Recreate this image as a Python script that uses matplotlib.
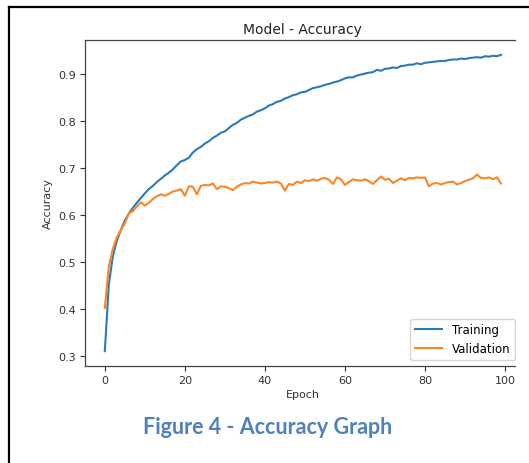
import matplotlib
matplotlib.use("Agg")
import matplotlib.pyplot as plt
from matplotlib.patches import Rectangle
from matplotlib.lines import Line2D

epochs = list(range(100))
training = [
    0.310, 0.452, 0.512, 0.545, 0.568, 0.588, 0.603, 0.615, 0.626, 0.636,
    0.646, 0.655, 0.662, 0.670, 0.677, 0.684, 0.690, 0.697, 0.706, 0.714,
    0.717, 0.722, 0.733, 0.740, 0.745, 0.752, 0.757, 0.764, 0.769, 0.775,
    0.778, 0.785, 0.792, 0.796, 0.803, 0.807, 0.811, 0.814, 0.820, 0.823,
    0.827, 0.833, 0.836, 0.841, 0.843, 0.848, 0.851, 0.855, 0.857, 0.861,
    0.862, 0.866, 0.870, 0.872, 0.874, 0.877, 0.879, 0.882, 0.884, 0.887,
    0.891, 0.893, 0.893, 0.897, 0.899, 0.901, 0.903, 0.904, 0.909, 0.907,
    0.911, 0.912, 0.914, 0.913, 0.917, 0.918, 0.920, 0.920, 0.923, 0.921,
    0.924, 0.925, 0.926, 0.927, 0.928, 0.928, 0.930, 0.931, 0.931, 0.933,
    0.932, 0.934, 0.935, 0.936, 0.935, 0.938, 0.937, 0.939, 0.938, 0.941,
]
validation = [
    0.402, 0.490, 0.528, 0.552, 0.568, 0.582, 0.604, 0.608, 0.618, 0.627,
    0.620, 0.626, 0.634, 0.640, 0.644, 0.641, 0.645, 0.650, 0.652, 0.655,
    0.641, 0.661, 0.660, 0.644, 0.662, 0.664, 0.663, 0.667, 0.655, 0.661,
    0.660, 0.657, 0.653, 0.660, 0.665, 0.668, 0.667, 0.671, 0.669, 0.667,
    0.668, 0.670, 0.669, 0.671, 0.667, 0.652, 0.666, 0.664, 0.671, 0.668,
    0.674, 0.672, 0.676, 0.673, 0.677, 0.679, 0.675, 0.666, 0.680, 0.676,
    0.664, 0.670, 0.676, 0.674, 0.673, 0.676, 0.672, 0.666, 0.674, 0.682,
    0.675, 0.677, 0.668, 0.673, 0.678, 0.674, 0.679, 0.678, 0.680, 0.679,
    0.680, 0.661, 0.667, 0.668, 0.665, 0.668, 0.670, 0.671, 0.665, 0.668,
    0.672, 0.675, 0.678, 0.686, 0.679, 0.678, 0.680, 0.676, 0.680, 0.667,
]
series_labels = ["Training", "Validation"]
title = "Model - Accuracy"
xlabel = "Epoch"
ylabel = "Accuracy"
caption = "Figure 4 - Accuracy Graph"

W, H = 529, 464
fig = plt.figure(figsize=(W / 100, H / 100), dpi=100)
fig.patch.set_facecolor("white")

ax = fig.add_axes([85 / W, 1 - 367 / H, (520.8 - 85) / W, (367 - 41) / H])
ax.plot(epochs, training, color="#2a7ab8", lw=1.5, label=series_labels[0])
ax.plot(epochs, validation, color="#fb8626", lw=1.5, label=series_labels[1])
ax.set_xticks([0, 20, 40, 60, 80, 100])
ax.set_yticks([0.3, 0.4, 0.5, 0.6, 0.7, 0.8, 0.9])
ax.tick_params(labelsize=8, colors="#333333", length=3.5, width=0.8, pad=3)
for s in ax.spines.values():
    s.set_linewidth(0.9)
    s.set_color("#444444")
ax.set_title(title, fontsize=10, pad=5, color="#222222")
ax.set_xlabel(xlabel, fontsize=8, labelpad=3, color="#333333")
ax.set_ylabel(ylabel, fontsize=8, labelpad=4, color="#333333")
ax.legend(loc="lower right", fontsize=8.5, handlelength=2.3, framealpha=0.8)

# crop the right side (chart image was cropped in the document)
fig.patches.append(Rectangle((515.5 / W, 0), 1, (H - 10) / H, transform=fig.transFigure,
                             facecolor="white", edgecolor="none", zorder=10))
# document frame
fig.lines.append(Line2D([9 / W, 9 / W], [0, 1 - 8 / H], transform=fig.transFigure,
                        color="black", lw=1.6, zorder=11))
fig.lines.append(Line2D([9 / W, 1], [1 - 8 / H, 1 - 8 / H], transform=fig.transFigure,
                        color="black", lw=1.6, zorder=11))

fig.text(268 / W, 1 - 428 / H, caption, ha="center", va="center",
         fontsize=15.5, fontweight="bold", color="#4F81BD", family=["Lato", "DejaVu Sans"])

fig.savefig("out.png", dpi=100)
